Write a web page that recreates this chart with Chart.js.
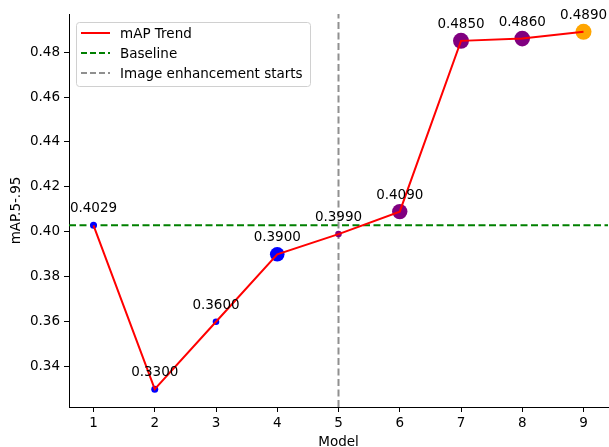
<!DOCTYPE html>
<html>
<head>
<meta charset="utf-8">
<script src="https://cdn.jsdelivr.net/npm/chart.js@4.4.0/dist/chart.umd.min.js"></script>
<style>
  html, body { margin: 0; padding: 0; background: #fff; }
  #wrap { width: 609px; height: 447px; }
</style>
</head>
<body>
<div id="wrap"><canvas id="mapChart" width="609" height="447"></canvas></div>
<script>
// === Data ===
const models = [1, 2, 3, 4, 5, 6, 7, 8, 9];
const mapValues = [0.4029, 0.33, 0.36, 0.39, 0.399, 0.409, 0.485, 0.486, 0.489];
const pointColors = ["#0000ff", "#0000ff", "#0000ff", "#0000ff", "#800080", "#800080", "#800080", "#800080", "#ffa500"];
const pointSizes = [3.5, 3.5, 3.3, 7.3, 3.3, 7.7, 8, 7.8, 8];
const baselineValue = 0.4029;
const enhanceStart = 5;
const xTicks = [1, 2, 3, 4, 5, 6, 7, 8, 9];
const yTicks = [0.34, 0.36, 0.38, 0.40, 0.42, 0.44, 0.46, 0.48];
const xRange = [0.6, 9.4];
const yRange = [0.32205, 0.49695];

const FONT = "'DejaVu Sans', sans-serif";
const FS = 13.5;

const points = models.map((m, i) => ({ x: m, y: mapValues[i] }));

// === Value labels above points ===
const valueLabels = {
  id: "valueLabels",
  afterDatasetsDraw(chart) {
    const { ctx } = chart;
    const meta = chart.getDatasetMeta(0);
    ctx.save();
    ctx.font = `${FS}px ${FONT}`;
    ctx.fillStyle = "#000";
    ctx.textAlign = "center";
    ctx.textBaseline = "alphabetic";
    meta.data.forEach((el, i) => {
      ctx.fillText(mapValues[i].toFixed(4), el.x, el.y - 13);
    });
    ctx.restore();
  },
};

// === Matplotlib-like legend ===
const legendBox = {
  id: "legendBox",
  afterDraw(chart) {
    const { ctx, chartArea } = chart;
    const items = [
      { label: "mAP Trend", color: "#ff0000", dash: [] },
      { label: "Baseline", color: "#008000", dash: [6, 3] },
      { label: "Image enhancement starts", color: "#909090", dash: [6, 3] },
    ];
    const x0 = chartArea.left + 7, y0 = chartArea.top + 8;
    const w = 234, h = 64;
    ctx.save();
    ctx.beginPath();
    ctx.roundRect(x0 + 0.5, y0 + 0.5, w, h, 3);
    ctx.fillStyle = "rgba(255,255,255,0.8)";
    ctx.fill();
    ctx.strokeStyle = "#d0d0d0";
    ctx.lineWidth = 1;
    ctx.stroke();
    ctx.font = `${FS}px ${FONT}`;
    ctx.textBaseline = "middle";
    items.forEach((it, i) => {
      const cy = y0 + 11 + i * 20;
      ctx.beginPath();
      ctx.setLineDash(it.dash);
      ctx.strokeStyle = it.color;
      ctx.lineWidth = 2;
      ctx.moveTo(x0 + 5, cy);
      ctx.lineTo(x0 + 34, cy);
      ctx.stroke();
      ctx.setLineDash([]);
      ctx.fillStyle = "#000";
      ctx.fillText(it.label, x0 + 44, cy + 1);
    });
    ctx.restore();
  },
};

const ctx = document.getElementById("mapChart");

new Chart(ctx, {
  type: "scatter",
  data: {
    datasets: [
      {
        label: "points",
        data: points,
        pointBackgroundColor: pointColors,
        pointBorderWidth: 0,
        pointRadius: pointSizes,
        showLine: false,
        order: 2,
      },
      {
        label: "mAP Trend",
        data: points,
        borderColor: "#ff0000",
        borderWidth: 2,
        pointRadius: 0,
        showLine: true,
        order: 1,
      },
      {
        label: "Baseline",
        data: [{ x: xRange[0], y: baselineValue }, { x: xRange[1], y: baselineValue }],
        borderColor: "#008000",
        borderWidth: 2,
        borderDash: [7, 3.5],
        pointRadius: 0,
        showLine: true,
        order: 4,
      },
      {
        label: "Image enhancement starts",
        data: [{ x: enhanceStart, y: yRange[0] }, { x: enhanceStart, y: yRange[1] }],
        borderColor: "#909090",
        borderWidth: 2,
        borderDash: [7, 3.5],
        pointRadius: 0,
        showLine: true,
        order: 3,
      },
    ],
  },
  options: {
    responsive: false,
    animation: false,
    layout: { autoPadding: false, padding: { left: 0, right: 1, top: 14, bottom: 0 } },
    plugins: {
      legend: { display: false },
      tooltip: { enabled: false },
    },
    scales: {
      x: {
        type: "linear",
        min: xRange[0],
        max: xRange[1],
        afterBuildTicks: (s) => { s.ticks = xTicks.map(v => ({ value: v })); },
        afterFit: (s) => { s.height = 40; s.paddingLeft = 0; s.paddingRight = 0; },
        grid: { drawOnChartArea: false, drawTicks: true, tickLength: 5, color: "#000" },
        border: { display: true, color: "#000", width: 1 },
        ticks: { color: "#000", font: { family: FONT, size: FS }, padding: 3, maxRotation: 0 },
        title: { display: true, text: "Model", color: "#000", font: { family: FONT, size: FS }, padding: { top: 0, bottom: -4 } },
      },
      y: {
        min: yRange[0],
        max: yRange[1],
        afterBuildTicks: (s) => { s.ticks = yTicks.map(v => ({ value: v })); },
        afterFit: (s) => { s.width = 69; s.paddingTop = 0; s.paddingBottom = 0; },
        grid: { drawOnChartArea: false, drawTicks: true, tickLength: 5, color: "#000" },
        border: { display: true, color: "#000", width: 1 },
        ticks: {
          color: "#000",
          font: { family: FONT, size: FS },
          padding: 4,
          callback: (v) => v.toFixed(2),
        },
        title: { display: true, text: "mAP.5-.95", color: "#000", font: { family: FONT, size: FS }, padding: { top: 8, bottom: 2 } },
      },
    },
  },
  plugins: [valueLabels, legendBox],
});
</script>
</body>
</html>
